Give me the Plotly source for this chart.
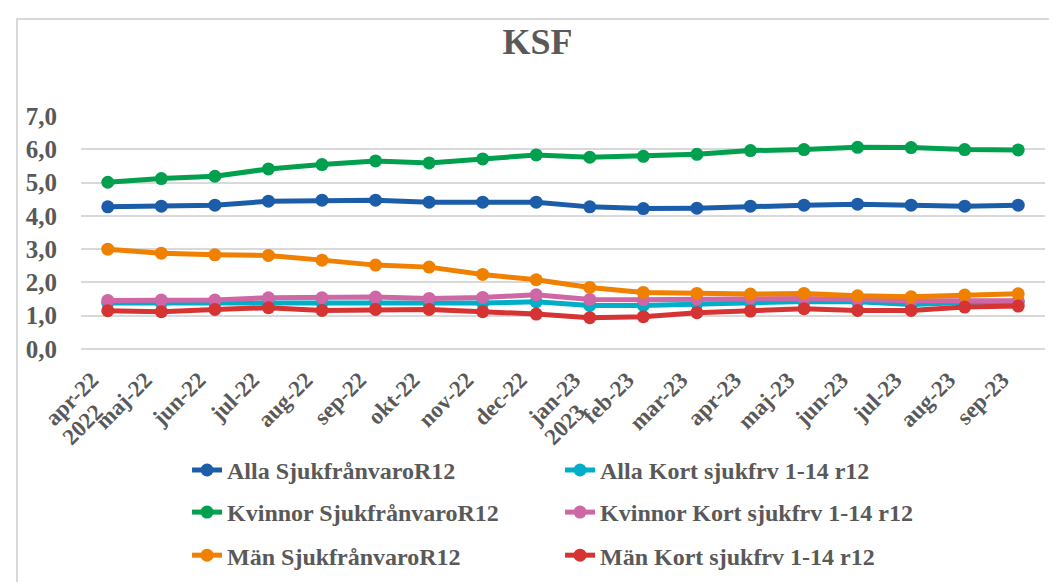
import plotly.graph_objects as go

months = ["apr-22", "maj-22", "jun-22", "jul-22", "aug-22", "sep-22", "okt-22", "nov-22", "dec-22",
          "jan-23", "feb-23", "mar-23", "apr-23", "maj-23", "jun-23", "jul-23", "aug-23", "sep-23"]
year_months = ["apr-22", "jan-23"]
year_labels = ["2022", "2023"]

alla_sjuk = [4.27, 4.29, 4.32, 4.44, 4.47, 4.47, 4.41, 4.41, 4.41, 4.27, 4.22, 4.23, 4.29, 4.32, 4.35, 4.32, 4.29, 4.32]
alla_kort = [1.38, 1.38, 1.38, 1.40, 1.40, 1.41, 1.38, 1.38, 1.42, 1.31, 1.31, 1.36, 1.40, 1.43, 1.42, 1.34, 1.40, 1.42]
kvinnor_sjuk = [5.01, 5.12, 5.19, 5.41, 5.54, 5.65, 5.59, 5.71, 5.83, 5.76, 5.79, 5.85, 5.96, 5.99, 6.06, 6.05, 5.99, 5.98]
kvinnor_kort = [1.46, 1.47, 1.47, 1.54, 1.54, 1.56, 1.52, 1.55, 1.63, 1.49, 1.48, 1.50, 1.52, 1.52, 1.49, 1.45, 1.45, 1.45]
man_sjuk = [3.00, 2.88, 2.83, 2.81, 2.67, 2.52, 2.46, 2.24, 2.08, 1.85, 1.70, 1.67, 1.65, 1.67, 1.60, 1.57, 1.62, 1.66]
man_kort = [1.15, 1.12, 1.19, 1.24, 1.16, 1.19, 1.19, 1.12, 1.05, 0.94, 0.97, 1.09, 1.14, 1.21, 1.16, 1.16, 1.26, 1.29]

series = [
    ("Alla SjukfrånvaroR12", alla_sjuk, "#1B5DA9", "legend"),
    ("Alla Kort sjukfrv 1-14 r12", alla_kort, "#00AEC7", "legend"),
    ("Kvinnor SjukfrånvaroR12", kvinnor_sjuk, "#00A04F", "legend2"),
    ("Kvinnor Kort sjukfrv 1-14 r12", kvinnor_kort, "#CF66A5", "legend2"),
    ("Män SjukfrånvaroR12", man_sjuk, "#F08000", "legend3"),
    ("Män Kort sjukfrv 1-14 r12", man_kort, "#D63333", "legend3"),
]

FONT = "Liberation Serif"
GRAY = "#595959"
GRID = "#D9D9D9"

fig = go.Figure()
for name, vals, color, lg in series:
    fig.add_trace(go.Scatter(
        x=months, y=vals, name="<b>" + name + "</b>", mode="lines+markers",
        line=dict(color=color, width=5),
        marker=dict(color=color, size=13),
        legend=lg,
    ))

legend_common = dict(
    orientation="h", xanchor="left", yanchor="middle",
    font=dict(family=FONT, size=24, color=GRAY),
    entrywidth=328, entrywidthmode="pixels",
    bgcolor="rgba(0,0,0,0)", itemwidth=30,
)

annotations = []
for m, lab in zip(year_months, year_labels):
    annotations.append(dict(
        x=months.index(m) + 0.06, y=(346 - 395) / 238, xref="x", yref="paper",
        text="<b>" + lab + "</b>", showarrow=False, textangle=-45,
        xanchor="right", yanchor="top",
        font=dict(family=FONT, size=23, color=GRAY),
    ))

fig.update_layout(
    width=1057, height=582,
    margin=dict(l=73, r=20, t=108, b=236),
    paper_bgcolor="white", plot_bgcolor="white",
    separators=", ",
    title=dict(text="<b>KSF</b>", x=0.501, xanchor="center", y=1 - 33 / 582, yanchor="middle",
               font=dict(family=FONT, size=36, color=GRAY)),
    font=dict(family=FONT, color=GRAY),
    xaxis=dict(
        type="category", range=[-0.5, len(months) - 0.5],
        tickmode="array", tickvals=months, ticktext=["<b>" + t + "</b>" for t in months],
        tickangle=-45, tickfont=dict(family=FONT, size=23, color=GRAY),
        showgrid=False, showline=False, zeroline=False, ticks="",
        ticklabelstandoff=12, ticklabelshift=-16,
    ),
    yaxis=dict(
        range=[0, 7], dtick=1, tick0=0, tickformat=".1f",
        showgrid=True, gridcolor=GRID, gridwidth=2,
        zeroline=True, zerolinecolor=GRID, zerolinewidth=2,
        showline=False, ticks="outside", ticklen=18, tickcolor="white", tickwidth=1,
        tickfont=dict(family=FONT, size=25, color=GRAY),
        tickprefix="<b>", ticksuffix="</b>",
    ),
    legend=dict(x=0.110, y=-0.521, **legend_common),
    legend2=dict(x=0.110, y=-0.7017, **legend_common),
    legend3=dict(x=0.110, y=-0.8866, **legend_common),
    annotations=annotations,
    shapes=[dict(type="rect", xref="paper", yref="paper",
                 x0=(9 - 73) / 964, x1=(1070 - 73) / 964,
                 y0=(346 - 600) / 238, y1=(346 - 9) / 238,
                 line=dict(color=GRID, width=2), fillcolor="rgba(0,0,0,0)", layer="below")],
)

fig.write_html("out.html")
